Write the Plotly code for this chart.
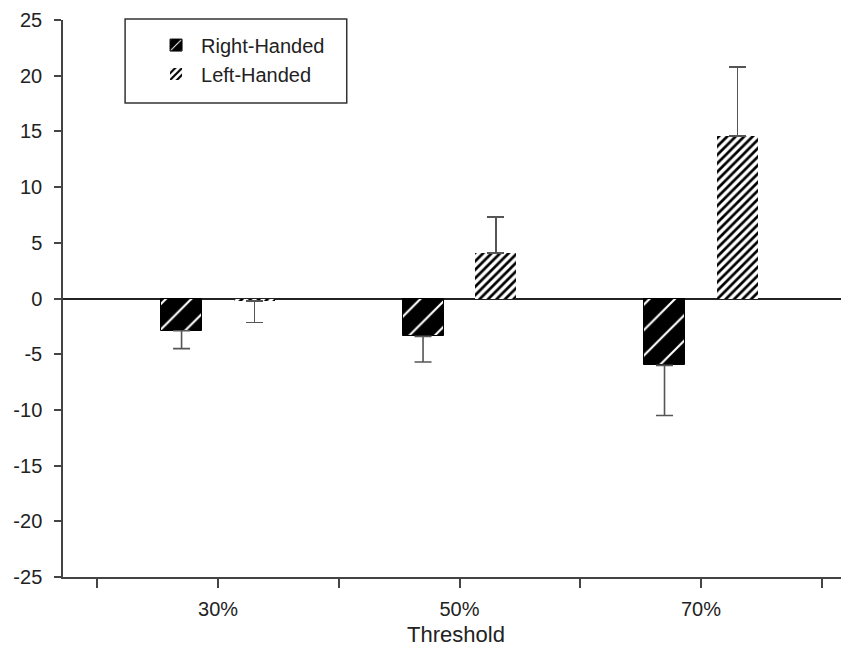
import plotly.graph_objects as go

categories = ["30%", "50%", "70%"]
right_vals = [-2.9, -3.4, -6.0]
right_err = [1.6, 2.3, 4.5]
left_vals = [-0.2, 4.1, 14.6]
left_err = [1.95, 3.2, 6.2]
y_ticks = [-25, -20, -15, -10, -5, 0, 5, 10, 15, 20, 25]

pos = list(range(len(categories)))

def err_dict(vals, errs):
    up = [e if v >= 0 else 0 for v, e in zip(vals, errs)]
    down = [e if v < 0 else 0 for v, e in zip(vals, errs)]
    return dict(type="data", symmetric=False, array=up, arrayminus=down,
                color="#555555", thickness=1.6, width=8.5)

fig = go.Figure()
fig.add_trace(go.Bar(
    x=pos, y=right_vals, name="Right-Handed",
    width=0.17, offset=-0.236,
    marker=dict(color="black", line=dict(color="black", width=1),
                pattern=dict(shape="/", bgcolor="black", fgcolor="white", fgopacity=1,
                             size=18, solidity=0.12, fillmode="overlay")),
    error_y=err_dict(right_vals, right_err),
))
fig.add_trace(go.Bar(
    x=pos, y=left_vals, name="Left-Handed",
    width=0.17, offset=0.066,
    marker=dict(color="white", line=dict(color="white", width=0),
                pattern=dict(shape="/", bgcolor="white", fgcolor="black", fgopacity=1,
                             size=6, solidity=0.45, fillmode="overlay")),
    error_y=err_dict(left_vals, left_err),
))

tickvals = []
ticktext = []
for i, c in enumerate(categories):
    tickvals += [i - 0.5, i]
    ticktext += ["", c]
tickvals.append(len(categories) - 0.5)
ticktext.append("")

# legend frame (paper coordinates relative to the plot area)
fig.add_shape(type="rect", xref="paper", yref="paper",
              x0=0.079, x1=0.361, y0=0.851, y1=1.002,
              line=dict(color="#333", width=1.5), fillcolor="white", layer="above")

fig.update_layout(
    width=841, height=662,
    margin=dict(l=55, r=0, t=12, b=93),
    paper_bgcolor="white", plot_bgcolor="white",
    font=dict(family="Liberation Sans, Arial, sans-serif", size=20, color="#222"),
    showlegend=True,
    legend=dict(x=0.112, y=0.990, xanchor="left", yanchor="top",
                borderwidth=0, bgcolor="rgba(0,0,0,0)",
                font=dict(size=20, color="#222"),
                itemwidth=40, tracegroupgap=0),
    xaxis=dict(range=[-0.642, 2.613], tickvals=tickvals, ticktext=ticktext,
               ticks="outside", ticklen=9, tickwidth=1.5, tickcolor="#444",
               showline=True, linecolor="#444", linewidth=1.5,
               showgrid=False, zeroline=False, ticklabelstandoff=4,
               tickfont=dict(size=20, color="#222"), automargin=False,
               title=dict(text="Threshold", font=dict(size=22, color="#222"), standoff=8)),
    yaxis=dict(range=[-25, 25], tickvals=y_ticks, ticktext=[str(v) for v in y_ticks],
               ticks="outside", ticklen=7, tickwidth=1.5, tickcolor="#444",
               showline=True, linecolor="#444", linewidth=1.5,
               showgrid=False, zeroline=True, zerolinecolor="#222", zerolinewidth=1.6,
               ticklabelstandoff=8, tickfont=dict(size=20, color="#222"), automargin=False),
    bargap=0, barmode="group",
)

fig.write_html("out.html")
